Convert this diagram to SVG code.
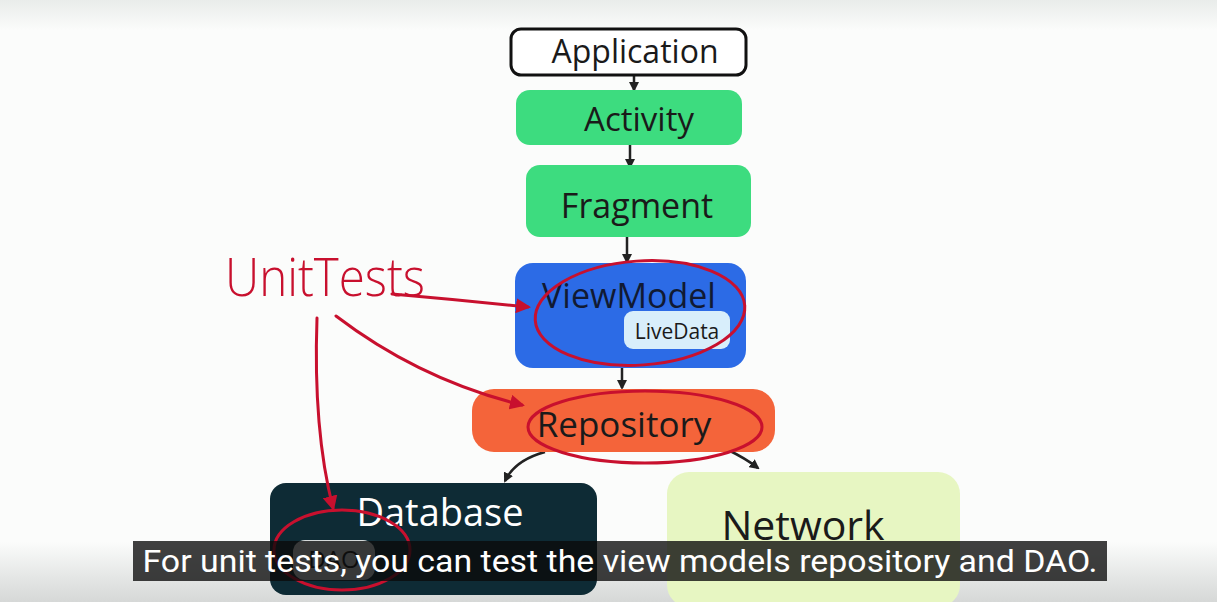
<svg xmlns="http://www.w3.org/2000/svg" width="1217" height="602" viewBox="0 0 1217 602">
<defs>
<linearGradient id="bg" x1="0" y1="0" x2="0" y2="1">
<stop offset="0" stop-color="#e9ecea"/>
<stop offset="0.05" stop-color="#fbfcfb"/>
<stop offset="0.9" stop-color="#fbfcfb"/>
<stop offset="0.96" stop-color="#e4e6e5"/>
<stop offset="1" stop-color="#d6d8d7"/>
</linearGradient>
<marker id="ah" viewBox="0 0 10 10" refX="8" refY="5" markerWidth="4" markerHeight="4" orient="auto">
<path d="M0,0 L10,5 L0,10 z" fill="#222"/>
</marker>
<marker id="rh" viewBox="0 0 10 10" refX="8" refY="5" markerWidth="5" markerHeight="5" orient="auto">
<path d="M0,0 L10,5 L0,10 z" fill="#c8102e"/>
</marker>
</defs>
<style>
.hand{font-family:"Open Sans","DejaVu Sans",sans-serif;text-anchor:middle}
.dark{fill:#1a1a1a}
.redline{fill:none;stroke:#c8102e;stroke-width:3;stroke-linecap:round}
.conn{fill:none;stroke:#222;stroke-width:2.5}
</style>
<rect width="1217" height="602" fill="url(#bg)"/>

<g id="connectors">
<path class="conn" d="M634,75 L634,90" marker-end="url(#ah)"/>
<path class="conn" d="M630,145 L630,167" marker-end="url(#ah)"/>
<path class="conn" d="M627,237 L627,262" marker-end="url(#ah)"/>
<path class="conn" d="M622,368 L622,388" marker-end="url(#ah)"/>
<path class="conn" d="M545,452 Q515,460 505,481" marker-end="url(#ah)"/>
<path class="conn" d="M728,450 Q745,458 758,468" marker-end="url(#ah)"/>
</g>

<g id="application">
<rect x="511" y="29" width="235" height="46" rx="10" fill="#fff" stroke="#111" stroke-width="3"/>
<text class="hand dark" x="635" y="63" font-size="32">Application</text>
</g>
<g id="activity">
<rect x="516" y="90" width="226" height="55" rx="14" fill="#3ddc7f"/>
<text class="hand dark" x="639" y="131" font-size="33">Activity</text>
</g>
<g id="fragment">
<rect x="526" y="165" width="225" height="72" rx="14" fill="#3ddc7f"/>
<text class="hand dark" x="637" y="218" font-size="34">Fragment</text>
</g>
<g id="viewmodel">
<rect x="515" y="263" width="231" height="105" rx="18" fill="#2c6be6"/>
<text class="hand" x="629" y="308" font-size="34" fill="#111a33">ViewModel</text>
<rect x="624" y="311" width="106" height="38" rx="9" fill="#d8eefb"/>
<text class="hand dark" x="677" y="339" font-size="21">LiveData</text>
</g>
<g id="repository">
<rect x="472" y="389" width="303" height="63" rx="22" fill="#f4643a"/>
<text class="hand dark" x="624" y="437" font-size="35">Repository</text>
</g>
<g id="database">
<rect x="270" y="483" width="327" height="112" rx="16" fill="#0e2b35"/>
<text class="hand" x="440" y="526" font-size="38" fill="#fff">Database</text>
<rect x="293" y="540" width="82" height="40" rx="12" fill="#d4d8d8"/>
<text class="hand dark" x="334" y="568" font-size="24">DAO</text>
</g>
<g id="network">
<rect x="667" y="472" width="293" height="135" rx="22" fill="#e7f6c2"/>
<text class="hand dark" x="803" y="540" font-size="41">Network</text>
</g>

<g id="unittests">
<text x="325" y="296" font-family="Open Sans, DejaVu Sans, sans-serif" font-size="54" fill="#c8102e" text-anchor="middle" font-weight="300" textLength="200" lengthAdjust="spacingAndGlyphs">UnitTests</text>
<ellipse cx="640" cy="313" rx="105" ry="52" class="redline" transform="rotate(-4 640 313)"/>
<ellipse cx="645" cy="427" rx="117" ry="36" class="redline"/>
<ellipse cx="342" cy="550" rx="68" ry="40" class="redline"/>
<path class="redline" d="M392,294 Q460,300 528,307" marker-end="url(#rh)"/>
<path class="redline" d="M336,316 Q420,380 522,405" marker-end="url(#rh)"/>
<path class="redline" d="M317,318 Q313,430 333,508" marker-end="url(#rh)"/>
</g>

<g id="caption">
<rect x="133" y="541" width="974" height="40" fill="#0a0a0a" fill-opacity="0.78"/>
<text x="620" y="572" font-family="Roboto, sans-serif" font-size="31" fill="#fff" text-anchor="middle" textLength="955" lengthAdjust="spacingAndGlyphs">For unit tests, you can test the view models repository and DAO.</text>
</g>
</svg>
